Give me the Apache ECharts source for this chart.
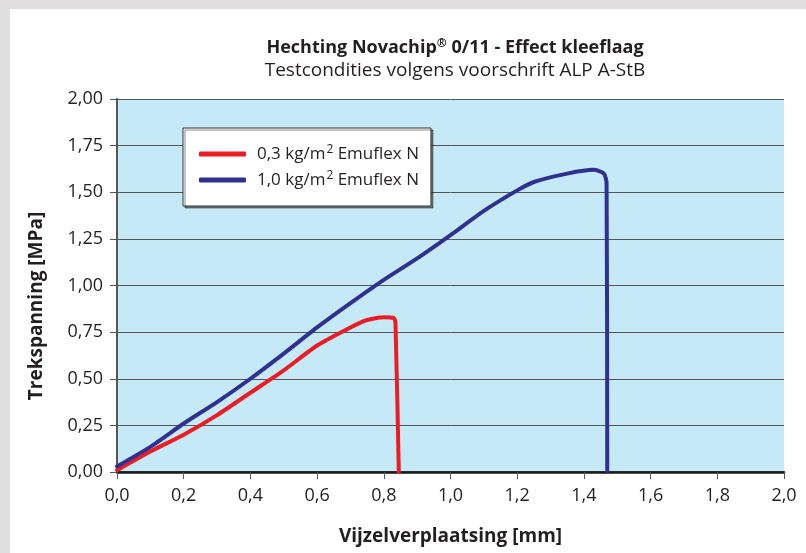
<!DOCTYPE html>
<html>
<head>
    <meta charset="utf-8">
    <title>Hechting Novachip 0/11</title>
    <script type="text/javascript" src="https://cdn.jsdelivr.net/npm/echarts@6/dist/echarts.min.js"></script>
    <style>
        html, body { margin: 0; padding: 0; }
        #main { width: 806px; height: 553px; }
    </style>
</head>
<body>
    <div id="main"></div>
    <script type="text/javascript">
    // data: [verplaatsing mm, trekspanning MPa]
    var seriesNames = ['0,3 kg/m2 Emuflex N', '1,0 kg/m2 Emuflex N'];
    var red03 = [
        [0, 0.01], [0.1, 0.11], [0.2, 0.2], [0.3, 0.305], [0.4, 0.425],
        [0.5, 0.545], [0.6, 0.678], [0.7, 0.775], [0.75, 0.815], [0.8, 0.83],
        [0.83, 0.826], [0.835, 0.8], [0.845, 0]
    ];
    var blue10 = [
        [0, 0.03], [0.1, 0.135], [0.2, 0.26], [0.3, 0.375], [0.4, 0.5],
        [0.5, 0.635], [0.6, 0.775], [0.7, 0.905], [0.8, 1.03], [0.9, 1.145],
        [1.0, 1.27], [1.1, 1.4], [1.2, 1.51], [1.25, 1.555], [1.35, 1.6],
        [1.43, 1.62], [1.46, 1.6], [1.468, 1.55], [1.47, 0]
    ];

    var font = '"Open Sans", "Noto Sans", sans-serif';
    var ink = '#231f20';
    var myChart = echarts.init(document.getElementById('main'));

    var option = {
        backgroundColor: '#e0dede',
        animation: false,
        title: {
            text: '{b|Hechting Novachip}{sup|®}{b| 0/11 - Effect kleeflaag}',
            subtext: 'Testcondities volgens voorschrift ALP A-StB',
            left: 450,
            top: 33,
            textAlign: 'center',
            itemGap: 5,
            textStyle: {
                rich: {
                    b: { fontFamily: font, fontSize: 18, fontWeight: 'bold', color: ink },
                    sup: { fontFamily: font, fontSize: 12, fontWeight: 'bold', color: ink, verticalAlign: 'top', padding: [0, 0, 7, 0] }
                }
            },
            subtextStyle: { fontFamily: font, fontSize: 19, color: ink }
        },
        graphic: [{
            type: 'rect',
            z: -10,
            shape: { x: 10, y: 9, width: 800, height: 550 },
            style: { fill: '#ffffff' }
        }, {
            type: 'text',
            x: 37,
            y: 306,
            rotation: Math.PI / 2,
            style: {
                text: 'Trekspanning [MPa]',
                font: 'bold 19px ' + font,
                fill: ink,
                align: 'center',
                verticalAlign: 'middle'
            }
        }],
        legend: {
            orient: 'vertical',
            left: 183,
            top: 128,
            padding: [16, 12, 16, 16],
            itemGap: 6,
            itemWidth: 47,
            itemHeight: 5,
            icon: 'roundRect',
            backgroundColor: '#ffffff',
            borderColor: '#333',
            borderWidth: 1,
            shadowColor: 'rgba(0,0,0,0.45)',
            shadowOffsetX: 2,
            shadowOffsetY: 2,
            formatter: function (name) {
                var parts = name.split('m2');
                return '{a|' + parts[0] + 'm}{s|2}{a|' + parts[1] + '}';
            },
            textStyle: {
                fontFamily: font, fontSize: 17, color: ink, lineHeight: 20, padding: [0, 0, 0, 6],
                rich: {
                    a: { fontFamily: font, fontSize: 17, color: ink },
                    s: { fontFamily: font, fontSize: 12, color: ink, verticalAlign: 'top', padding: [0, 0, 6, 1] }
                }
            },
            data: seriesNames
        },
        grid: {
            left: 117, right: 22, top: 99, bottom: 81,
            show: true,
            backgroundColor: '#c6e9f8',
            borderWidth: 0
        },
        xAxis: [{
            type: 'value',
            min: 0, max: 2, interval: 0.2,
            name: 'Vijzelverplaatsing [mm]',
            nameLocation: 'middle',
            nameGap: 55,
            nameTextStyle: { fontFamily: font, fontSize: 19, fontWeight: 'bold', color: ink },
            axisLine: { lineStyle: { color: '#333', width: 1.5 } },
            axisTick: { length: 7, lineStyle: { color: '#555' } },
            axisLabel: {
                margin: 15, fontFamily: font, fontSize: 18, color: ink,
                formatter: function (v) { return v.toFixed(1).replace('.', ','); }
            },
            splitLine: { show: false }
        }, {
            type: 'value',
            position: 'top',
            min: 0, max: 2,
            axisLine: { lineStyle: { color: '#1a1a1a', width: 2.5 } },
            axisTick: { show: false },
            axisLabel: { show: false },
            splitLine: { show: false }
        }],
        yAxis: [{
            type: 'value',
            min: 0, max: 2, interval: 0.25,
            axisLine: { show: true, lineStyle: { color: '#333', width: 1.5 } },
            axisTick: { show: true, length: 7, lineStyle: { color: '#555' } },
            axisLabel: {
                margin: 14, fontFamily: font, fontSize: 18, color: ink,
                formatter: function (v) { return v.toFixed(2).replace('.', ','); }
            },
            splitLine: { lineStyle: { color: '#555', width: 1 } }
        }, {
            type: 'value',
            position: 'right',
            min: 0, max: 2,
            axisLine: { show: true, lineStyle: { color: '#555', width: 2 } },
            axisTick: { show: false },
            axisLabel: { show: false },
            splitLine: { show: false }
        }],
        series: [{
            name: seriesNames[0],
            type: 'line',
            data: red03,
            smooth: 0.2,
            showSymbol: false,
            color: '#ec1c24',
            lineStyle: { width: 4, cap: 'round', join: 'round' }
        }, {
            name: seriesNames[1],
            type: 'line',
            data: blue10,
            smooth: 0.2,
            showSymbol: false,
            color: '#2e3192',
            lineStyle: { width: 4, cap: 'round', join: 'round' }
        }]
    };

    myChart.setOption(option);
    </script>
</body>
</html>
